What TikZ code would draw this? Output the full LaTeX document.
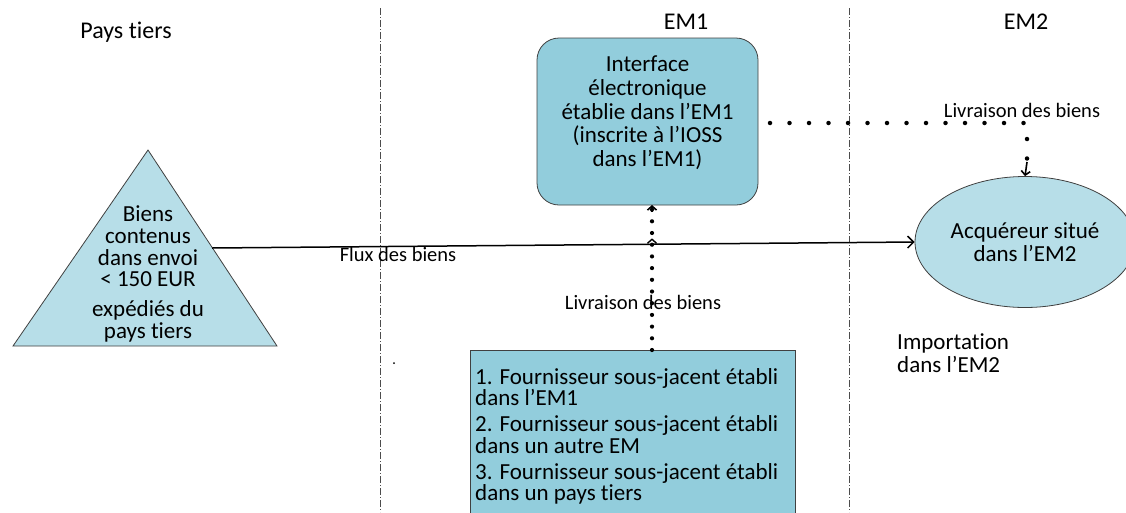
\documentclass[tikz,border=0pt]{standalone}
\usepackage{fontspec}
\setmainfont{Carlito}[Ligatures=NoCommon]
\usetikzlibrary{arrows.meta,shapes.geometric,decorations.markings}
\definecolor{boxblue}{HTML}{92CDDC}
\definecolor{paleblue}{HTML}{B7DEE8}
\definecolor{edgegray}{HTML}{404040}
\tikzset{
  border/.style={draw=edgegray, line width=0.8pt},
  zone/.style={draw=black!70, line width=0.9pt, dash pattern=on 7pt off 2pt on 1pt off 2pt},
  bigdots/.style={line width=4.5pt, line cap=round, dash pattern=on 0pt off 19.5pt},
  smalldots/.style={line width=4.2pt, line cap=round, dash pattern=on 0pt off 11.7pt},
  lbl/.style={font=\fontsize{20.5}{22}\selectfont, inner sep=0pt},
  hdr/.style={font=\fontsize{24}{26}\selectfont, inner sep=0pt},
}
\begin{document}
\begin{tikzpicture}[x=1pt,y=-1pt]
\useasboundingbox (0,0) rectangle (1126,512);
% zone separators
\coordinate (z1t) at (380,8); \coordinate (z1b) at (380,512);
\coordinate (z2t) at (849,8); \coordinate (z2b) at (849,512);
\draw[zone] (z1t) -- (z1b);
\draw[zone] (z2t) -- (z2b);
% headers
\node[hdr] (pt) at (126,32) {Pays tiers};
\node[hdr] (em1) at (686,22) {EM1};
\node[hdr] (em2) at (1026,22) {EM2};
% triangle
\coordinate (ta) at (148,150);
\coordinate (tl) at (13,346);
\coordinate (tr) at (277,346);
\fill[paleblue] (ta) -- (tr) -- (tl) -- cycle;
\draw[border] (ta) -- (tr) -- (tl) -- cycle;
\node[align=center, inner sep=0pt, font=\fontsize{23}{21.7}\selectfont] (biens) at (148,274)
  {Biens\\contenus\\dans envoi\\< 150 EUR\\[8pt]expédiés du\\pays tiers};
% interface box
\node[border, fill=boxblue, rounded corners=22pt, minimum width=221pt, minimum height=167pt] (iface) at (647.5,121.5) {};
\node[align=center, inner sep=0pt, font=\fontsize{23}{23.7}\selectfont] (ifacetext) at (647.5,113)
  {Interface\\électronique\\établie dans l’EM1\\(inscrite à l’IOSS\\dans l’EM1)};
% acquirer ellipse
\node[ellipse, border, fill=paleblue, minimum width=220pt, minimum height=131pt,
  align=center, font=\fontsize{23}{23}\selectfont, inner sep=0pt] (acq) at (1025,242)
  {Acquéreur situé\\dans l’EM2};
% supplier box
\node[border, fill=boxblue, anchor=north west, minimum width=325pt, minimum height=175pt] (supp) at (470,350) {};
\node[anchor=north west, align=left, inner sep=0pt, font=\fontsize{23}{21.5}\selectfont] (supptext) at (475,368)
  {1. Fournisseur sous-jacent établi\\dans l’EM1\\[4.5pt]
   2. Fournisseur sous-jacent établi\\dans un autre EM\\[4.5pt]
   3. Fournisseur sous-jacent établi\\dans un pays tiers};
% flux of goods
\coordinate (fs) at (212,248);
\draw[line width=1.5pt, -{Straight Barb[length=6pt,width=12pt,line width=1.5pt]}] (fs) -- (acq.west);
\node[lbl, anchor=north] (flux) at (398,247) {Flux des biens};
% delivery supplier -> interface
\coordinate (sup) at (652,350);
\coordinate (ifs) at (652,205);
\coordinate (ifa) at (652,212);
\draw[smalldots, postaction={decorate, decoration={markings,
   mark=at position 0.77 with {\arrow[line width=1.4pt]{Straight Barb[length=4pt,width=9pt]}}}}] (sup) -- (ifs);
\draw[line width=1.6pt, -{Straight Barb[length=4pt,width=9pt]}] (ifa) -- (ifs);
\node[lbl] (liv1) at (643,302) {Livraison des biens};
% delivery interface -> acquirer
\coordinate (d1) at (770,123);
\coordinate (d2) at (1027,123);
\coordinate (d3) at (1027,162);
\draw[bigdots] (d1) -- (d2) -- (d3);
\draw[line width=1.6pt, -{Straight Barb[length=4pt,width=9pt]}] (d3) -- (acq.north);
\node[lbl] (liv2) at (1022,110) {Livraison des biens};
% import label
\node[anchor=west, align=left, inner sep=0pt, font=\fontsize{23}{23}\selectfont] (imp) at (897,353)
  {Importation\\dans l’EM2};
% stray dot
\fill (394,363) circle (1pt);
\end{tikzpicture}
\end{document}
